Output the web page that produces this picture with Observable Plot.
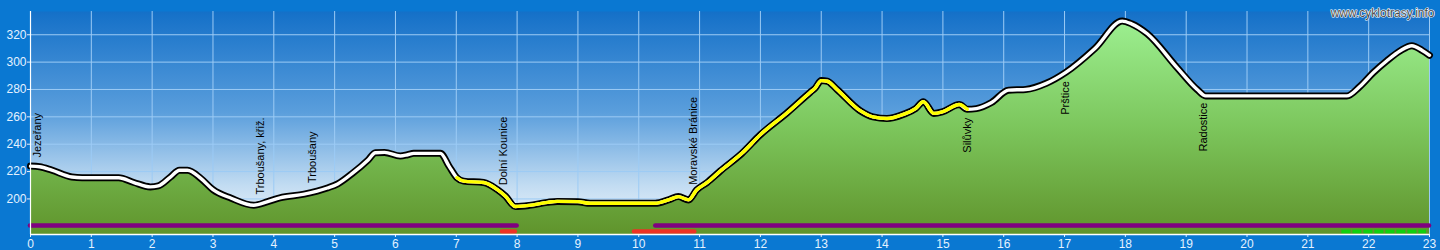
<!DOCTYPE html>
<html><head><meta charset="utf-8">
<script src="https://cdn.jsdelivr.net/npm/d3@7"></script>
<script src="https://cdn.jsdelivr.net/npm/@observablehq/plot@0.6"></script>
<style>
html,body{margin:0;padding:0;background:#0a78d2;width:1440px;height:250px;overflow:hidden}
#chart svg{display:block}
</style></head><body><div id="chart"></div>
<script>
// Profile: distance (km) and elevation (m)
const km = [0.00,0.15,0.35,0.68,0.85,1.45,1.70,1.97,2.10,2.30,2.45,2.58,2.80,3.00,3.30,3.67,3.90,4.10,4.50,4.88,5.05,5.30,5.55,5.67,5.82,6.08,6.20,6.30,6.74,6.88,7.01,7.12,7.45,7.67,7.81,7.97,8.20,8.50,8.66,9.00,9.20,10.27,10.50,10.65,10.82,10.95,11.12,11.34,11.70,12.00,12.44,12.82,12.90,13.00,13.10,13.26,13.64,13.85,14.08,14.35,14.55,14.68,14.85,15.00,15.27,15.40,15.55,15.80,16.08,16.36,16.70,17.02,17.50,17.95,18.10,18.36,18.85,19.18,19.32,21.64,21.85,22.08,22.30,22.52,22.71,22.88,23.00];
const elevation = [224,223.5,221,216,215.5,215.5,212,208.8,209.5,216,221,221,215,206.8,200.5,195.4,198,200.8,203.5,208,211,219,228.5,233.8,234,231.4,232.3,233.3,233.3,224,215.5,213,212,207,202,194.5,195.3,197.5,198.2,198,196.8,196.8,199.5,201.7,199.3,206.5,211.9,220.4,233.5,247,263,278,281,286.5,286,280,264.5,260,258.8,261.8,266,271,262.5,263.8,269,265.5,266,270.5,279.5,280,284.5,292.5,310,330,328,320.7,296,280,275.3,275.3,282,292.5,301,308.3,312,308.5,305];

// Highlighted (yellow) stretch of the route
const highlightFrom = 7.01;
const highlightTo = 15.40;

// Place names
const placeNames = ["Jezeřany","Trboušany, křiž.","Trboušany","Dolní Kounice","Moravské Bránice","Silůvky","Prštice","Radostice"];
const placeKm = [0.11,3.78,4.63,7.77,10.90,15.40,17.01,19.28];
const placeSide = ["above","above","above","above","above","below","below","below"];

// Route attribute bars along the bottom
const barKind = ["purple","purple","red","red","green"];
const barFrom = [0.00,10.28,7.76,9.93,21.56];
const barTo = [8.00,23.00,7.97,10.92,22.95];

// Axes
const xTicks = d3.range(0, 24);
const yTicks = [200,220,240,260,280,300,320];
const xDomain = [0, 23];
const yDomain = [174, 337];

const W = 1440, H = 250, mL = 30, mR = 11, mT = 11, mB = 16;

const profile = km.map((k, i) => ({km: k, elev: elevation[i]}));
const highlight = profile.filter(d => d.km >= highlightFrom && d.km <= highlightTo);
const elevAt = d3.scaleLinear().domain(km).range(elevation);
const places = placeNames.map((name, i) => ({name, km: placeKm[i], side: placeSide[i], elev: elevAt(placeKm[i])}));
const bars = barKind.map((kind, i) => ({kind, from: barFrom[i], to: barTo[i]}));
const barColor = {purple: "#800080", red: "#ee3324", green: "#10d010"};
const curve = "monotone-x";

const plot = Plot.plot({
  width: W, height: H,
  marginLeft: mL, marginRight: mR, marginTop: mT, marginBottom: mB,
  x: {domain: xDomain, ticks: xTicks, tickSize: 3, tickPadding: 2, tickFormat: d => d, label: null},
  y: {domain: yDomain, ticks: yTicks, tickSize: 3, tickPadding: 1, label: null},
  style: {background: "transparent", color: "#e4f2ff", fontFamily: "'Liberation Sans', Arial, sans-serif", fontSize: "12px", overflow: "visible"},
  marks: [
    Plot.frame({fill: "url(#sky)", stroke: null}),
    Plot.ruleX(xTicks, {stroke: "#9ccbf5", strokeWidth: 1}),
    Plot.ruleY(yTicks, {stroke: "#9ccbf5", strokeWidth: 1}),
    Plot.areaY(profile, {x: "km", y1: yDomain[0], y2: "elev", fill: "url(#ground)", curve}),
    Plot.ruleY(bars, {x1: "from", x2: "to", y: () => yDomain[0], dy: -9, stroke: d => barColor[d.kind], strokeWidth: 4.6, strokeLinecap: "round", filter: d => d.kind === "purple"}),
    Plot.ruleY(bars, {x1: "from", x2: "to", y: () => yDomain[0], dy: -3, stroke: d => barColor[d.kind], strokeWidth: 4.6, strokeLinecap: "round", filter: d => d.kind === "red"}),
    Plot.ruleY(bars, {x1: "from", x2: "to", y: () => yDomain[0], dy: -3, stroke: d => barColor[d.kind], strokeWidth: 4, strokeDasharray: "9,2", filter: d => d.kind === "green"}),
    Plot.line(profile, {x: "km", y: "elev", stroke: "black", strokeWidth: 7, strokeLinejoin: "round", curve}),
    Plot.line(profile, {x: "km", y: "elev", stroke: "white", strokeWidth: 3.4, strokeLinejoin: "round", curve}),
    Plot.line(highlight, {x: "km", y: "elev", stroke: "#ffff00", strokeWidth: 3.4, strokeLinejoin: "round", curve}),
    Plot.ruleX([xDomain[0]], {stroke: "white", strokeWidth: 1.2}),
    Plot.ruleY([yDomain[0]], {stroke: "white", strokeWidth: 1.5}),
    Plot.text(places.filter(d => d.side === "above"), {x: "km", y: "elev", text: "name", rotate: -90, textAnchor: "start", dy: -9, fill: "black", fontSize: 11}),
    Plot.text(places.filter(d => d.side === "below"), {x: "km", y: "elev", text: "name", rotate: -90, textAnchor: "end", dy: 8.5, fill: "black", fontSize: 11}),
    Plot.text(["www.cyklotrasy.info"], {frameAnchor: "top-right", dx: 5, dy: -3, textAnchor: "end", fill: "#4a4a4a", stroke: "white", strokeWidth: 1.2, paintOrder: "stroke", fontSize: 12})
  ]
});

const ns = "http://www.w3.org/2000/svg";
const defs = document.createElementNS(ns, "defs");
defs.innerHTML = `
<linearGradient id="sky" gradientUnits="userSpaceOnUse" x1="0" y1="${mT}" x2="0" y2="${H - mB}">
  <stop offset="0" stop-color="#1470c8"/>
  <stop offset="0.45" stop-color="#5a9edc"/>
  <stop offset="0.78" stop-color="#c2dcf2"/>
  <stop offset="1" stop-color="#f6f9fc"/>
</linearGradient>
<linearGradient id="ground" gradientUnits="userSpaceOnUse" x1="0" y1="${mT + 10}" x2="0" y2="${H - mB}">
  <stop offset="0" stop-color="#9cef90"/>
  <stop offset="0.5" stop-color="#7cc65c"/>
  <stop offset="1" stop-color="#60942c"/>
</linearGradient>`;
plot.insertBefore(defs, plot.firstChild);
document.getElementById("chart").appendChild(plot);
</script>
</body></html>
